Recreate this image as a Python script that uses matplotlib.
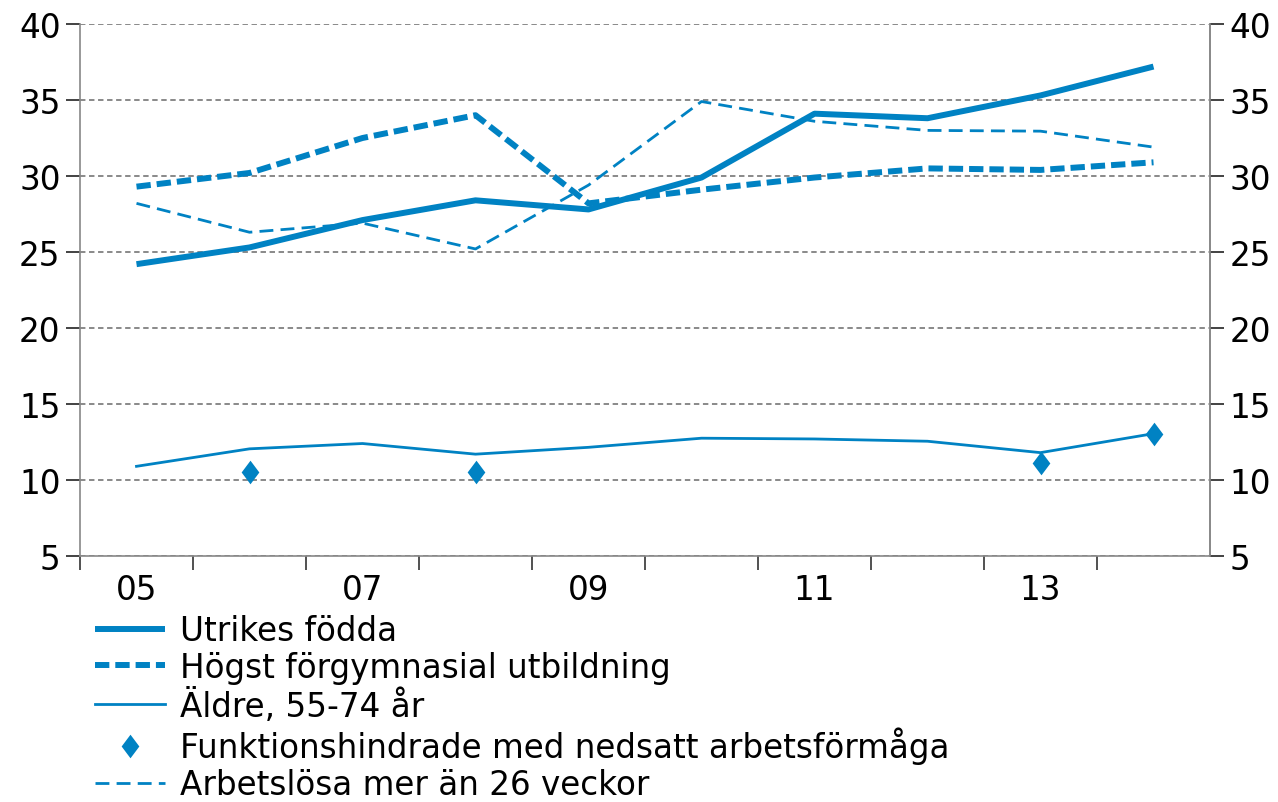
import matplotlib
matplotlib.use("Agg")
import matplotlib.pyplot as plt
from matplotlib.path import Path
import numpy as np

years = ["05", "06", "07", "08", "09", "10", "11", "12", "13", "14"]
utrikes = [24.2, 25.3, 27.1, 28.4, 27.8, 29.9, 34.1, 33.8, 35.3, 37.2]
hogst = [29.3, 30.2, 32.5, 34.0, 28.2, 29.1, 29.9, 30.5, 30.4, 30.9]
aldre = [10.9, 12.05, 12.4, 11.7, 12.15, 12.75, 12.7, 12.55, 11.8, 13.05]
funk_years = ["06", "08", "13", "14"]
funk = [10.5, 10.55, 11.1, 13.05]
arbetslosa = [28.2, 26.3, 26.9, 25.2, 29.4, 34.9, 33.6, 33.0, 32.95, 31.9]

labels = ["Utrikes födda", "Högst förgymnasial utbildning", "Äldre, 55-74 år",
          "Funktionshindrade med nedsatt arbetsförmåga", "Arbetslösa mer än 26 veckor"]

blue = "#0082C3"
fs = 23.5

diamond = Path([(0, 1), (0.75, 0), (0, -1), (-0.75, 0), (0, 1)],
               [Path.MOVETO, Path.LINETO, Path.LINETO, Path.LINETO, Path.CLOSEPOLY])

fig = plt.figure(figsize=(12.78, 8.03), dpi=100)
ax = fig.add_axes([80/1278, 1-557/803, (1210-80)/1278, (557-25)/803])

x = np.arange(len(years))
fx = [years.index(y) for y in funk_years]

l1, = ax.plot(x, utrikes, color=blue, lw=4.3, solid_capstyle="butt")
l2, = ax.plot(x, hogst, color=blue, lw=4.3, dashes=(2.4, 1.0), dash_capstyle="butt")
l3, = ax.plot(x, aldre, color=blue, lw=2.0)
l4, = ax.plot(fx, funk, color=blue, lw=0, marker=diamond, markersize=17, markeredgewidth=0)
l5, = ax.plot(x, arbetslosa, color=blue, lw=2.0, dashes=(5.0, 2.6))

ax.set_xlim(-0.5, 9.5)
ax.set_ylim(5, 40)
ax.set_yticks(np.arange(5, 41, 5))
ax.yaxis.grid(True, color="#808080", linestyle=(0, (3, 2)), lw=1.3)
ax.set_axisbelow(True)

ax.set_xticks(np.arange(-0.5, 9.5, 1.0))
ax.set_xticklabels([])
ax.set_xticks(x[::2], minor=True)
ax.set_xticklabels([years[i] for i in x[::2]], minor=True, fontsize=fs)
ax.tick_params(axis="x", which="major", direction="out", length=10, width=1.2, color="#333333")
ax.tick_params(axis="x", which="minor", length=0, pad=12)
ax.tick_params(axis="y", direction="out", length=10, width=1.2, color="#222222", labelsize=fs, pad=4)

ax.spines["top"].set_visible(False)
for s in ["left", "right", "bottom"]:
    ax.spines[s].set_color("#888888")
    ax.spines[s].set_linewidth(1.2)

ax2 = ax.twinx()
ax2.set_ylim(5, 40)
ax2.set_yticks(np.arange(5, 41, 5))
ax2.tick_params(axis="y", direction="out", length=10, width=1.2, color="#222222", labelsize=fs, pad=4)
for s in ["top", "left", "bottom"]:
    ax2.spines[s].set_visible(False)
ax2.spines["right"].set_color("#888888")
ax2.spines["right"].set_linewidth(1.2)

leg = fig.legend([l1, l2, l3, l4, l5], labels, loc="upper left",
                 bbox_to_anchor=(95/1278, 1-615/803), frameon=False, fontsize=fs,
                 handlelength=2.15, handletextpad=0.45, labelspacing=0.12, borderpad=0, borderaxespad=0)

fig.savefig("out.png", dpi=100)
